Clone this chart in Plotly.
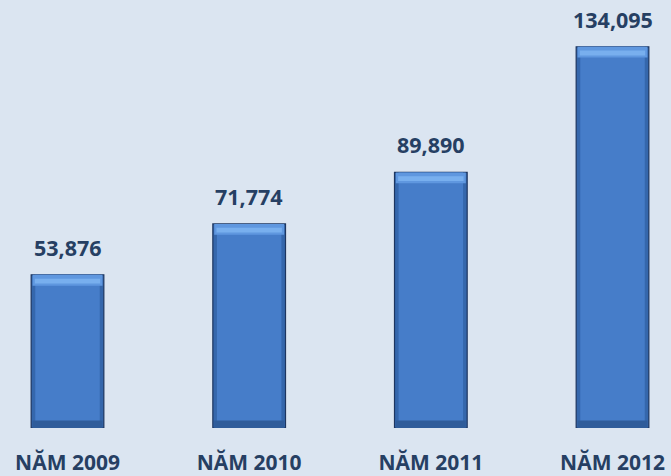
import plotly.graph_objects as go

categories = ["NĂM 2009", "NĂM 2010", "NĂM 2011", "NĂM 2012"]
values = [53876, 71774, 89890, 134095]
value_labels = ["53,876", "71,774", "89,890", "134,095"]

BG = "#dbe5f1"
TXT = "#263f63"
FONT = "Open Sans"

# bevel band thicknesses (style, in data units)
TOP_BAND = 3800
BOTTOM_BAND = 2600

fig = go.Figure()
# outer body (dark edges)
fig.add_trace(go.Bar(
    x=categories, y=values, width=0.40,
    marker=dict(color="#3567ac", line=dict(color="#1d3660", width=1.2)),
    hoverinfo="skip",
))
# inner face
fig.add_trace(go.Bar(
    x=categories, y=values, width=0.355,
    marker=dict(color="#467dc9", line=dict(width=0)),
    hoverinfo="skip",
))
# top light bevel
fig.add_trace(go.Bar(
    x=categories, y=[TOP_BAND] * len(values),
    base=[v - TOP_BAND for v in values], width=0.385,
    marker=dict(color="#5f97df", line=dict(width=0)),
    hoverinfo="skip",
))
fig.add_trace(go.Bar(
    x=categories, y=[TOP_BAND * 0.45] * len(values),
    base=[v - TOP_BAND * 0.8 for v in values], width=0.36,
    marker=dict(color="#78afee", line=dict(width=0)),
    hoverinfo="skip",
))
# bottom dark bevel
fig.add_trace(go.Bar(
    x=categories, y=[BOTTOM_BAND] * len(values), width=0.385,
    marker=dict(color="#2f5c9a", line=dict(width=0)),
    hoverinfo="skip",
))

for c, v, t in zip(categories, values, value_labels):
    fig.add_annotation(x=c, y=v, text=f"<b>{t}</b>", showarrow=False,
                       yanchor="bottom", yshift=11,
                       font=dict(family=FONT, size=21.5, color=TXT))

fig.update_layout(
    width=671, height=476,
    margin=dict(l=0, r=0, t=0, b=46),
    paper_bgcolor=BG, plot_bgcolor=BG,
    barmode="overlay", showlegend=False,
    xaxis=dict(range=[-0.3716, 3.322], showgrid=False, zeroline=False,
               showline=False, ticks="", ticklabelstandoff=20,
               tickvals=categories, ticktext=[f"<b>{c}</b>" for c in categories],
               tickfont=dict(family=FONT, size=21, color=TXT)),
    yaxis=dict(range=[0, 150560], visible=False),
)
fig.write_html("out.html")
